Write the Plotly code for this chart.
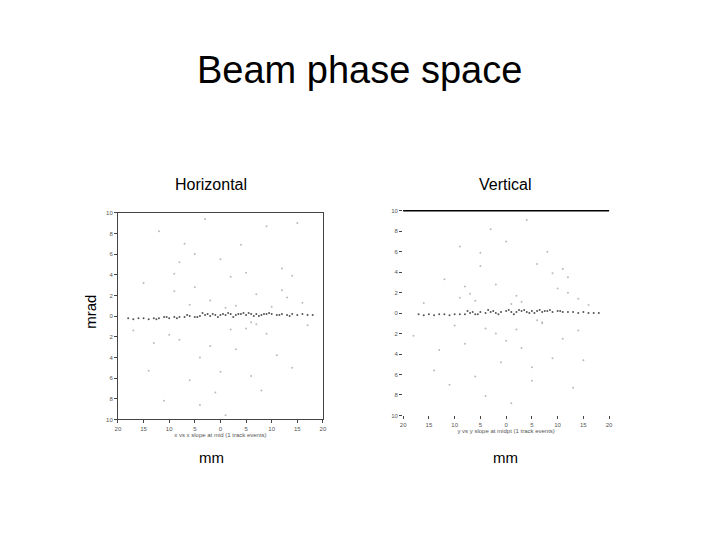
import plotly.graph_objects as go

# Horizontal panel: dense beam core (x in mm, x' in mrad)
h_core_x = [-18, -17, -16, -15, -14, -13, -12, -11, -10, -9, -8, -7, -6, -5, -4, -3, -2, -1, 0, 1,
            2, 3, 4, 5, 6, 7, 8, 9, 10, 11, 12, 13, 14, 15, 16, 17, 18,
            -12.5, -10.5, -8.5, -6.5, -4.5, -2.5, -0.5, 1.5, 3.5, 5.5, 7.5, 9.5, 11.5, 13.5,
            -3.5, -1.5, 0.5, 2.5, 4.5, 6.5, 8.5]
h_core_y = [-0.2, -0.3, -0.2, -0.2, -0.3, -0.2, -0.2, -0.1, -0.2, -0.1, -0.1, -0.1, 0.0, -0.1, 0.0, 0.1, 0.0, 0.1, 0.1, 0.1,
            0.2, 0.1, 0.2, 0.1, 0.2, 0.2, 0.1, 0.2, 0.2, 0.1, 0.2, 0.1, 0.2, 0.1, 0.2, 0.1, 0.1,
            -0.3, -0.1, -0.2, 0.1, -0.1, 0.2, -0.1, 0.3, 0.2, 0.3, 0.0, 0.3, 0.1, 0.0,
            0.3, 0.2, 0.2, -0.1, 0.3, 0.0, 0.2]
# Horizontal panel: halo
h_halo_x = [-17, -15, -14, -12, -11, -9, -8, -7, -6, -5, -4, -3, -2, -1, 0, 1, 2, 3, 4, 5, 6, 7, 8, 9, 10, 11,
            12, 13, 14, 15, 16, 17, -10, -6, -2, 3, 7, 12, -13, -8, -4, 1, 5, 9, 14, -5, 0, 6, -9, 2]
h_halo_y = [-1.4, 3.2, -5.3, 8.2, -8.2, 4.1, -2.3, 7.0, -6.2, 2.8, -4.0, 9.4, 1.5, -7.4, 5.5, -9.6, 3.8, -3.2, 6.9, -1.2,
            -5.8, 2.1, -7.2, 8.7, 0.9, -3.8, 4.6, 1.8, -5.0, 9.0, 1.3, -0.9, -1.8, 1.1, -2.9, 1.0, -0.8, 2.5,
            -2.6, 5.2, -8.6, 0.8, 4.2, -1.7, 3.9, 6.0, -5.4, -0.6, 2.4, -1.3]

# Vertical panel: dense beam core (y in mm, y' in mrad)
v_core_x = [-17, -16, -15, -14, -13, -12, -11, -10, -9, -8, -7, -6, -5, -4, -3, -2, -1, 0, 1, 2,
            3, 4, 5, 6, 7, 8, 9, 10, 11, 12, 13, 14, 15, 16, 17, 18,
            -7.5, -5.5, -3.5, -1.5, 0.5, 2.5, 4.5, 6.5, 8.5, 10.5, -6.5, -2.5, 1.5, 3.5, 5.5, 7.5]
v_core_y = [-0.1, -0.2, -0.1, -0.2, -0.1, -0.1, -0.2, -0.1, -0.1, -0.1, 0.0, -0.1, 0.1, 0.0, 0.1, 0.0, 0.1, 0.2, 0.1, 0.1,
            0.2, 0.1, 0.2, 0.2, 0.1, 0.2, 0.1, 0.2, 0.1, 0.1, 0.1, 0.0, 0.1, 0.0, 0.0, 0.0,
            0.2, -0.1, 0.3, -0.1, 0.3, 0.3, 0.0, 0.3, 0.3, 0.2, 0.1, 0.2, -0.1, 0.3, 0.0, 0.2]
# Vertical panel: halo
v_halo_x = [-18, -16, -14, -12, -11, -9, -8, -7, -6, -5, -4, -3, -2, -1, 0, 1, 2, 3, 4, 5, 6, 7, 8, 9, 10, 11,
            12, 13, 14, 15, 16, -10, -6, -2, 3, 7, 12, -13, -8, -4, 1, 5, 9, 14, -5, 0, 6, -9, 2, 11]
v_halo_y = [-2.2, 1.0, -5.6, 3.3, -7.0, 6.5, -3.0, 1.9, -6.2, 4.6, -1.5, 8.2, 2.8, -4.8, 7.0, -8.8, 1.7, -3.4, 9.1, -6.6,
            4.8, -1.0, 6.0, -4.4, 2.4, -2.5, 3.5, -7.3, 1.4, -4.6, 0.8, -1.2, 1.2, -2.0, 1.1, -0.9, 2.0,
            -3.6, 2.6, -8.1, 0.9, -5.3, 3.9, -1.7, 5.9, -2.7, -0.7, 1.5, -1.6, 4.3]

ticks = [-20, -15, -10, -5, 0, 5, 10, 15, 20]
yticks = [-10, -8, -6, -4, -2, 0, 2, 4, 6, 8, 10]
tick_font = dict(family="Liberation Sans", size=6, color="#555")

W, H = 720, 540


def px(x):
    return (x - 8) / W


def py(y):
    return 1 - (y - 8) / H


fig = go.Figure()
for cx, cy, hx, hy, ax in [(h_core_x, h_core_y, h_halo_x, h_halo_y, ""),
                           (v_core_x, v_core_y, v_halo_x, v_halo_y, "2")]:
    fig.add_trace(go.Scatter(x=hx, y=hy, mode="markers", xaxis="x" + ax, yaxis="y" + ax,
                             marker=dict(size=2, color="#bbbbbb"), showlegend=False))
    fig.add_trace(go.Scatter(x=cx, y=cy, mode="markers", xaxis="x" + ax, yaxis="y" + ax,
                             marker=dict(size=2, color="#555555"), showlegend=False))

axis_common = dict(range=[-20, 20], tickvals=ticks, ticktext=[str(abs(t)) for t in ticks],
                   ticks="outside", ticklen=3, tickfont=tick_font, showgrid=False, zeroline=False)
yaxis_common = dict(range=[-10, 10], tickvals=yticks, ticktext=[str(abs(t)) for t in yticks],
                    ticks="outside", ticklen=3, tickfont=tick_font, showgrid=False, zeroline=False)


def label(text, x, y, size, angle=0):
    return dict(text=text, x=px(x), y=py(y), xref="paper", yref="paper", xanchor="center",
                yanchor="middle", textangle=angle, showarrow=False,
                font=dict(family="Liberation Sans", size=size, color="black"))


fig.update_layout(
    width=W, height=H, margin=dict(l=0, r=0, t=0, b=0),
    paper_bgcolor="white", plot_bgcolor="white",
    font=dict(family="Liberation Sans"),
    xaxis=dict(domain=[px(116), px(323)], anchor="y", showline=True, mirror=True, linecolor="#444", linewidth=1,
               title=dict(text="x vs x slope at mid (1 track events)", font=dict(size=6, color="#555"), standoff=2),
               **axis_common),
    yaxis=dict(domain=[py(421), py(212)], anchor="x", showline=True, mirror=True, linecolor="#444", linewidth=1,
               **yaxis_common),
    xaxis2=dict(domain=[px(404), px(612)], anchor="y2", showline=False,
                title=dict(text="y vs y slope at midpt (1 track events)", font=dict(size=6, color="#555"), standoff=2),
                **axis_common),
    yaxis2=dict(domain=[py(417), py(210)], anchor="x2", showline=False, **yaxis_common),
    shapes=[dict(type="line", xref="x2 domain", yref="y2 domain", x0=0, x1=1, y0=1, y1=1,
                 line=dict(color="black", width=1.5))],
    annotations=[
        label("Beam phase space", 360, 68, 38),
        label("Horizontal", 210, 183, 16),
        label("Vertical", 507, 183, 16),
        label("mm", 210, 460, 15),
        label("mm", 507, 460, 15),
        label("mrad", 88, 312, 15, -90),
    ],
)

fig.write_html("out.html")
